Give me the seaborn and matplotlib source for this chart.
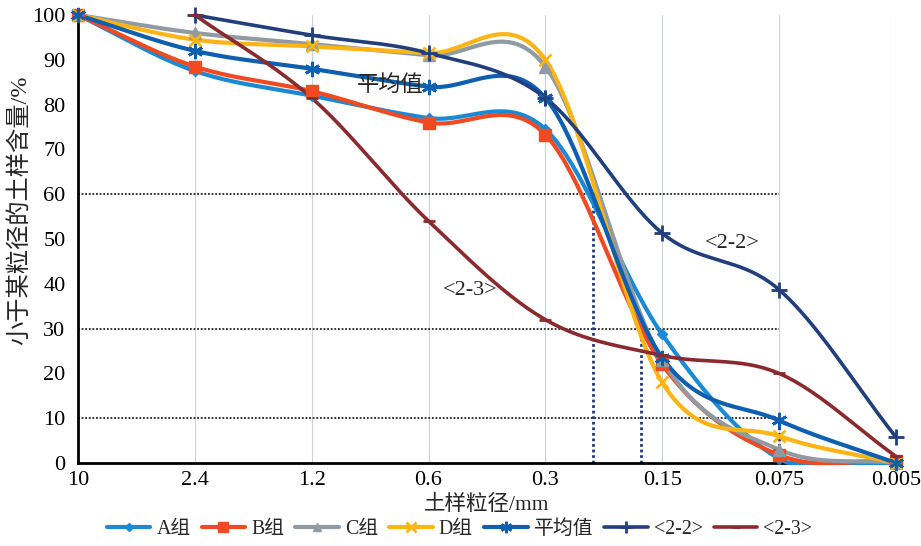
import numpy as np
import pandas as pd
import matplotlib
matplotlib.use("Agg")
import matplotlib.pyplot as plt
from matplotlib.lines import Line2D
import seaborn as sns

# ---------------- data ----------------
sizes = ["10", "2.4", "1.2", "0.6", "0.3", "0.15", "0.075", "0.005"]
group_a = [100, 87.5, 82, 77, 74.5, 28.7, 1.0, 0.0]
group_b = [100, 88.5, 83, 76, 73.3, 22.0, 1.8, 0.5]
group_c = [100, 96.0, 93.5, 91, 88.5, 23.0, 3.0, 0.0]
group_d = [100, 94.5, 93.0, 91.5, 90.0, 18.0, 6.0, 0.0]
group_avg = [100, 92.0, 88.0, 84.0, 81.5, 23.5, 9.5, 0.0]
sizes_22 = ["2.4", "1.2", "0.6", "0.3", "0.15", "0.075", "0.005"]
curve_22 = [100, 95.5, 91.5, 81.5, 51.3, 38.7, 5.8]
sizes_23 = ["2.4", "1.2", "0.6", "0.3", "0.15", "0.075", "0.005"]
curve_23 = [100, 81.5, 54.0, 32.0, 24.0, 20.0, 1.5]
ref_levels = [60, 30, 10]
ref_cross = [4.407, 4.818, 6.0]   # category-index positions of d60, d30, d10

series = [
    ("A组", sizes, group_a, "#1a8ad4", "D", 5, 3.0),
    ("B组", sizes, group_b, "#f04a22", "s", 9, 3.0),
    ("C组", sizes, group_c, "#8f9aa3", "^", 8, 3.0),
    ("D组", sizes, group_d, "#fdb414", "x", 9, 3.0),
    ("平均值", sizes, group_avg, "#0f5fb0", (6, 2, 0), 11, 3.0),
    ("<2-2>", sizes_22, curve_22, "#213f7c", "+", 11, 2.6),
    ("<2-3>", sizes_23, curve_23, "#8b2a2e", "_", 8, 2.6),
]


def catmull_rom(x, y, n=40):
    x = np.asarray(x, float)
    y = np.asarray(y, float)
    px = np.concatenate([[2 * x[0] - x[1]], x, [2 * x[-1] - x[-2]]])
    py = np.concatenate([[2 * y[0] - y[1]], y, [2 * y[-1] - y[-2]]])
    xs, ys = [], []
    for i in range(1, len(px) - 2):
        t = np.linspace(0, 1, n, endpoint=(i == len(px) - 3))
        p0, p1, p2, p3 = py[i - 1], py[i], py[i + 1], py[i + 2]
        q0, q1, q2, q3 = px[i - 1], px[i], px[i + 1], px[i + 2]
        c1y = p1 + (p2 - p0) / 6
        c2y = p2 - (p3 - p1) / 6
        c1x = q1 + (q2 - q0) / 6
        c2x = q2 - (q3 - q1) / 6
        b = lambda a, b1, b2, d: ((1 - t) ** 3 * a + 3 * (1 - t) ** 2 * t * b1
                                  + 3 * (1 - t) * t ** 2 * b2 + t ** 3 * d)
        xs.append(b(q1, c1x, c2x, q2))
        ys.append(b(p1, c1y, c2y, p2))
    return np.concatenate(xs), np.clip(np.concatenate(ys), 0, 100)


# ---------------- figure ----------------
sns.set_style("white")
plt.rcParams["font.family"] = ["Liberation Serif", "Noto Sans CJK SC"]
plt.rcParams["axes.unicode_minus"] = False

fig = plt.figure(figsize=(9.21, 5.46), dpi=100)
ax = fig.add_axes([0.0847, 0.152, 0.888, 0.8205])

pos = {s: i for i, s in enumerate(sizes)}

# vertical category grid lines
for i in range(1, len(sizes)):
    ax.axvline(i, color="#c9d3dd", lw=0.8, zorder=0)

# reference dotted lines
for lvl in ref_levels:
    ax.plot([0, 6.0], [lvl, lvl], color="#222222", lw=1.3, ls=(0, (1, 1)), zorder=1)
for xc, lvl in zip(ref_cross, ref_levels):
    ax.plot([xc, xc], [0, lvl], color="#243a78", lw=2.0, ls=(0, (1, 1)), zorder=1)

handles = []
for name, xcat, vals, col, mk, ms, lw in series:
    xi = [pos[s] for s in xcat]
    sx, sy = catmull_rom(xi, vals)
    df = pd.DataFrame({"x": sx, "y": sy})
    sns.lineplot(data=df, x="x", y="y", ax=ax, color=col, lw=lw, sort=False,
                 estimator=None, zorder=3, clip_on=False)
    mew = 2.0 if mk in ("x", "+", "_", (6, 2, 0)) else 1
    ax.plot(xi, vals, ls="none", marker=mk, ms=ms, color=col, mew=mew,
            zorder=4, clip_on=False)
    handles.append(Line2D([0], [0], color=col, lw=lw, marker=mk,
                          ms=ms * 0.75, mew=mew, label=name))

ax.set_xlim(0, len(sizes) - 1)
ax.set_ylim(0, 100)
ax.set_xticks(range(len(sizes)))
ax.set_xticklabels(sizes)
ax.set_yticks(range(0, 101, 10))
ax.tick_params(axis="both", direction="in", length=4, width=1.2,
               labelsize=16, colors="black", pad=6)
ax.tick_params(axis="y", pad=9)

for sp in ["top", "right"]:
    ax.spines[sp].set_visible(False)
for sp in ["left", "bottom"]:
    ax.spines[sp].set_color("black")
    ax.spines[sp].set_linewidth(2.0)

ax.set_xlabel("土样粒径/mm", fontsize=15.5, labelpad=3)
ax.set_ylabel("小于某粒径的土样含量/%", fontsize=17.5)
ax.yaxis.set_label_coords(-0.057, 0.565)

ax.text(2.67, 84.5, "平均值", fontsize=16, ha="center", va="center",
        family=["Noto Sans CJK SC"], zorder=5)
ax.text(5.6, 49, "<2-2>", fontsize=16, ha="center", va="center", zorder=5)
ax.text(3.36, 38.5, "<2-3>", fontsize=16, ha="center", va="center", zorder=5)

fig.legend(handles=handles, loc="center", bbox_to_anchor=(0.499, 0.03),
           ncol=7, frameon=False, fontsize=14.3, handlelength=2.2,
           handletextpad=0.3, columnspacing=0.55)

fig.savefig("out.png", dpi=100)
